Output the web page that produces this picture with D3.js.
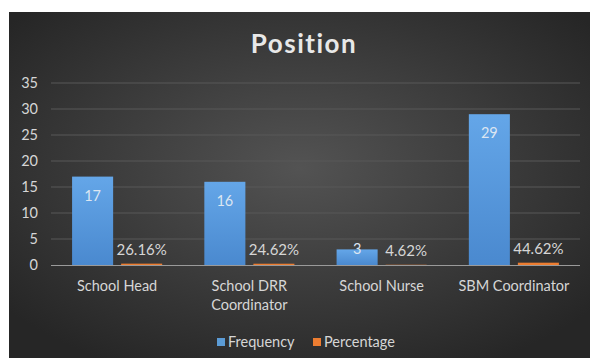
<!DOCTYPE html>
<html>
<head>
<meta charset="utf-8">
<script src="https://cdn.jsdelivr.net/npm/d3@7"></script>
<style>
  html, body { margin: 0; padding: 0; background: #ffffff; }
  svg { display: block; }
</style>
</head>
<body>
<svg id="chart" width="590" height="358"></svg>
<script>
const categories = [["School Head"], ["School DRR", "Coordinator"], ["School Nurse"], ["SBM Coordinator"]];
const frequency = [17, 16, 3, 29];
const percentage = [26.16, 24.62, 4.62, 44.62];
const yTicks = [0, 5, 10, 15, 20, 25, 30, 35];
const seriesNames = ["Frequency", "Percentage"];
const title = "Position";

const W = 590, H = 358;
const font = "Lato, 'Open Sans', sans-serif";
const textColor = "#d6d6d6";
const svg = d3.select("#chart");

const defs = svg.append("defs");
const bg = defs.append("radialGradient").attr("id", "bg")
  .attr("cx", "50%").attr("cy", "45%").attr("r", "65%");
bg.append("stop").attr("offset", "0%").attr("stop-color", "#535353");
bg.append("stop").attr("offset", "100%").attr("stop-color", "#262626");
const blue = defs.append("linearGradient").attr("id", "blue")
  .attr("x1", 0).attr("y1", 0).attr("x2", 0).attr("y2", 1);
blue.append("stop").attr("offset", "0%").attr("stop-color", "#64a6e8");
blue.append("stop").attr("offset", "100%").attr("stop-color", "#4a89cf");

svg.append("rect").attr("x", 9).attr("y", 12).attr("width", W - 9).attr("height", H - 12)
  .attr("fill", "url(#bg)");

const labels = categories.map(c => c.join(" "));
const x0 = d3.scaleBand().domain(labels).range([51, 580]);
const x1 = d3.scaleBand().domain(seriesNames).range([0, x0.bandwidth()])
  .paddingInner(0.163).paddingOuter(0.43);
const y = d3.scaleLinear().domain([0, 35]).range([265, 83]);

// gridlines
svg.append("g").selectAll("line").data(yTicks.filter(t => t > 0)).join("line")
  .attr("x1", 51).attr("x2", 580)
  .attr("y1", d => y(d)).attr("y2", d => y(d))
  .attr("stroke", "#595959").attr("stroke-width", 1);

// y axis labels
const yAxis = d3.axisLeft(y).tickValues(yTicks).tickSize(0).tickPadding(13);
const gy = svg.append("g").attr("transform", "translate(51,0)").call(yAxis);
gy.select(".domain").remove();
gy.selectAll("text").attr("fill", textColor).style("font-family", font).style("font-size", "14.5px");

// bars
const data = labels.map((l, i) => ({ cat: l, freq: frequency[i], pct: percentage[i] / 100 }));
const g = svg.append("g");
g.selectAll("rect.f").data(data).join("rect").attr("class", "f")
  .attr("x", d => x0(d.cat) + x1("Frequency"))
  .attr("width", x1.bandwidth())
  .attr("y", d => y(d.freq))
  .attr("height", d => y(0) - y(d.freq))
  .attr("fill", "url(#blue)");
g.selectAll("rect.p").data(data).join("rect").attr("class", "p")
  .attr("x", d => x0(d.cat) + x1("Percentage"))
  .attr("width", x1.bandwidth())
  .attr("y", d => y(d.pct))
  .attr("height", d => y(0) - y(d.pct))
  .attr("fill", "#ed7d31");

// x axis line
svg.append("line").attr("x1", 51).attr("x2", 580).attr("y1", y(0) + 0.5).attr("y2", y(0) + 0.5)
  .attr("stroke", "#9a9a9a").attr("stroke-width", 1);

// value labels
g.selectAll("text.f").data(data).join("text").attr("class", "f")
  .attr("x", d => x0(d.cat) + x1("Frequency") + x1.bandwidth() / 2)
  .attr("y", d => (y(0) - y(d.freq)) > 30 ? y(d.freq) + 24 : y(d.freq) + 5)
  .attr("text-anchor", "middle")
  .attr("fill", "#dce6f2").style("font-family", font).style("font-size", "14.5px")
  .text(d => d.freq);
g.selectAll("text.p").data(data).join("text").attr("class", "p")
  .attr("x", d => x0(d.cat) + x1("Percentage") + x1.bandwidth() / 2)
  .attr("y", d => y(d.pct) - 9)
  .attr("text-anchor", "middle")
  .attr("fill", textColor).style("font-family", font).style("font-size", "15px")
  .text(d => d3.format(".2f")(d.pct * 100) + "%");

// category labels
svg.append("g").selectAll("text").data(categories).join("text")
  .attr("x", (d, i) => x0(labels[i]) + x0.bandwidth() / 2)
  .attr("y", 291)
  .attr("text-anchor", "middle")
  .attr("fill", textColor).style("font-family", font).style("font-size", "14.5px")
  .selectAll("tspan").data(d => d).join("tspan")
  .attr("x", function () { return d3.select(this.parentNode).attr("x"); })
  .attr("dy", (d, i) => i === 0 ? 0 : 19)
  .text(d => d);

// title
svg.append("text").attr("x", 304).attr("y", 53).attr("text-anchor", "middle")
  .attr("fill", "#e8e8e8").style("font-family", font).style("font-size", "26px")
  .style("letter-spacing", "1.5px")
  .style("font-weight", "bold").text(title);

// legend
const legendColors = ["#5b9bd5", "#ed7d31"];
const legendX = [217, 313];
const lg = svg.append("g");
seriesNames.forEach((s, i) => {
  lg.append("rect").attr("x", legendX[i]).attr("y", 338).attr("width", 8).attr("height", 8)
    .attr("fill", legendColors[i]);
  lg.append("text").attr("x", legendX[i] + 11).attr("y", 347)
    .attr("fill", textColor).style("font-family", font).style("font-size", "14.5px").text(s);
});
</script>
</body>
</html>
